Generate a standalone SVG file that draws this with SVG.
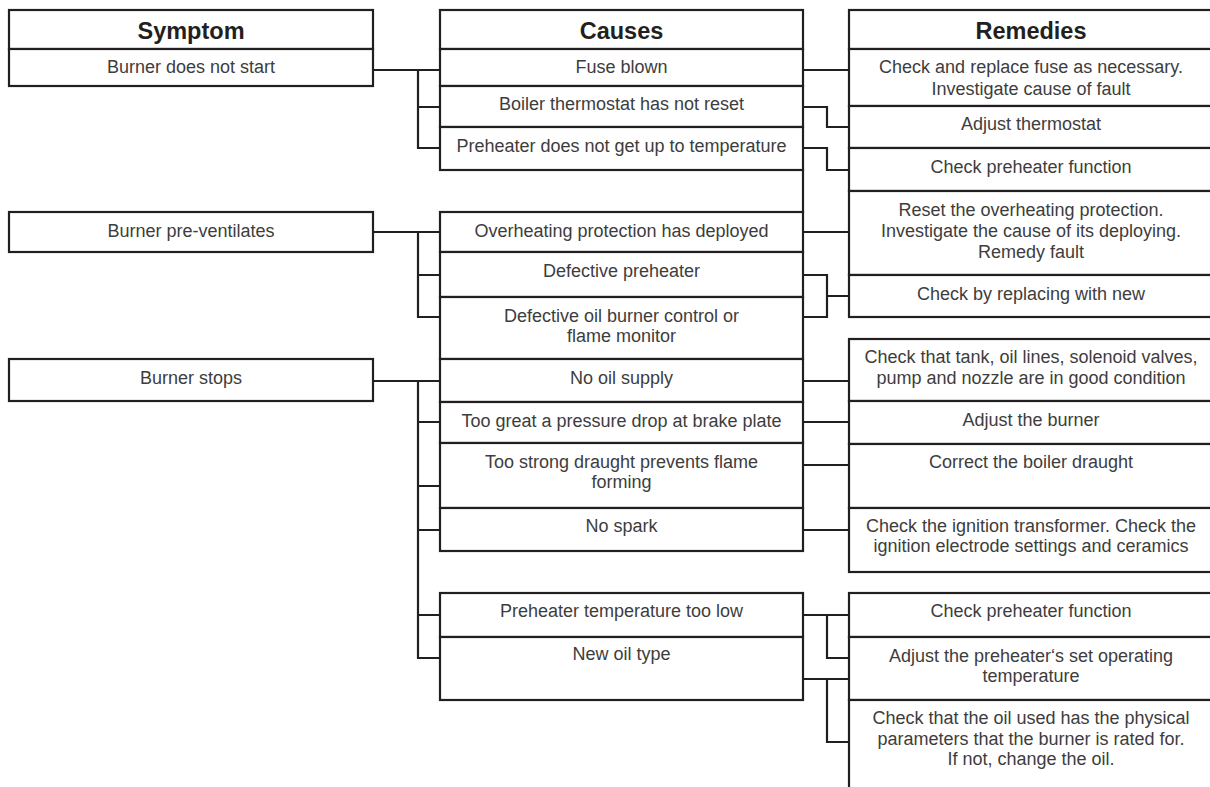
<svg xmlns="http://www.w3.org/2000/svg" width="1210" height="787" viewBox="0 0 1210 787">
<style>
.box{fill:#fff;stroke:#231f20;stroke-width:2.2}
.c{fill:none;stroke:#231f20;stroke-width:2.2;stroke-linecap:square}
.h{font-family:"Liberation Sans",Arial,sans-serif;font-weight:bold;font-size:23.5px;fill:#231f20;text-anchor:middle}
.t{font-family:"Liberation Sans",Arial,sans-serif;font-size:18px;fill:#3d3d3d;text-anchor:middle}
</style>
<rect width="1210" height="787" fill="#fff"/>
<g id="connectors">
<path class="c" d="M373,70H440M418,70V148M418,107H440M418,148H440"/>
<path class="c" d="M373,232H440M418,232V317M418,275H440M418,317H440"/>
<path class="c" d="M373,381H440M418,381V658M418,422H440M418,486H440M418,530H440M418,615H440M418,658H440"/>
<path class="c" d="M803,70H849"/>
<path class="c" d="M803,107H827V127H849"/>
<path class="c" d="M803,148H827V170H849"/>
<path class="c" d="M803,170V212"/>
<path class="c" d="M803,232H849"/>
<path class="c" d="M803,275H827V317H803M827,296H849"/>
<path class="c" d="M803,381H849"/>
<path class="c" d="M803,422H849"/>
<path class="c" d="M803,465H849"/>
<path class="c" d="M803,530H849"/>
<path class="c" d="M803,615H849M827,615V658H849"/>
<path class="c" d="M803,679H849M827,679V742H849"/>
</g>
<g id="symptom-header"><rect class="box" x="9" y="10" width="364" height="39"/><text class="h" x="191" y="39">Symptom</text></g>
<g id="symptom-1"><rect class="box" x="9" y="49" width="364" height="37"/><text class="t" x="191" y="73">Burner does not start</text></g>
<g id="symptom-2"><rect class="box" x="9" y="212" width="364" height="40"/><text class="t" x="191" y="237">Burner pre-ventilates</text></g>
<g id="symptom-3"><rect class="box" x="9" y="359" width="364" height="42"/><text class="t" x="191" y="384">Burner stops</text></g>

<g id="causes-header"><rect class="box" x="440" y="10" width="363" height="39"/><text class="h" x="621.5" y="39">Causes</text></g>
<g id="cause-1"><rect class="box" x="440" y="49" width="363" height="37"/><text class="t" x="621.5" y="73">Fuse blown</text></g>
<g id="cause-2"><rect class="box" x="440" y="86" width="363" height="41"/><text class="t" x="621.5" y="110">Boiler thermostat has not reset</text></g>
<g id="cause-3"><rect class="box" x="440" y="127" width="363" height="43"/><text class="t" x="621.5" y="152">Preheater does not get up to temperature</text></g>
<g id="cause-4"><rect class="box" x="440" y="212" width="363" height="40"/><text class="t" x="621.5" y="237">Overheating protection has deployed</text></g>
<g id="cause-5"><rect class="box" x="440" y="252" width="363" height="45"/><text class="t" x="621.5" y="277">Defective preheater</text></g>
<g id="cause-6"><rect class="box" x="440" y="297" width="363" height="62"/><text class="t" x="621.5" y="322">Defective oil burner control or</text><text class="t" x="621.5" y="342">flame monitor</text></g>
<g id="cause-7"><rect class="box" x="440" y="359" width="363" height="43"/><text class="t" x="621.5" y="384">No oil supply</text></g>
<g id="cause-8"><rect class="box" x="440" y="402" width="363" height="41"/><text class="t" x="621.5" y="427">Too great a pressure drop at brake plate</text></g>
<g id="cause-9"><rect class="box" x="440" y="443" width="363" height="65"/><text class="t" x="621.5" y="468">Too strong draught prevents flame</text><text class="t" x="621.5" y="488">forming</text></g>
<g id="cause-10"><rect class="box" x="440" y="508" width="363" height="43"/><text class="t" x="621.5" y="532">No spark</text></g>
<g id="cause-11"><rect class="box" x="440" y="593" width="363" height="44"/><text class="t" x="621.5" y="617">Preheater temperature too low</text></g>
<g id="cause-12"><rect class="box" x="440" y="637" width="363" height="63"/><text class="t" x="621.5" y="660">New oil type</text></g>

<g id="remedies-header"><rect class="box" x="849" y="10" width="366" height="39"/><text class="h" x="1031" y="39">Remedies</text></g>
<g id="remedy-1"><rect class="box" x="849" y="49" width="366" height="57"/><text class="t" x="1031" y="73">Check and replace fuse as necessary.</text><text class="t" x="1031" y="95">Investigate cause of fault</text></g>
<g id="remedy-2"><rect class="box" x="849" y="106" width="366" height="42"/><text class="t" x="1031" y="130">Adjust thermostat</text></g>
<g id="remedy-3"><rect class="box" x="849" y="148" width="366" height="43"/><text class="t" x="1031" y="173">Check preheater function</text></g>
<g id="remedy-4"><rect class="box" x="849" y="191" width="366" height="84"/><text class="t" x="1031" y="216">Reset the overheating protection.</text><text class="t" x="1031" y="237">Investigate the cause of its deploying.</text><text class="t" x="1031" y="258">Remedy fault</text></g>
<g id="remedy-5"><rect class="box" x="849" y="275" width="366" height="42"/><text class="t" x="1031" y="300">Check by replacing with new</text></g>
<g id="remedy-6"><rect class="box" x="849" y="339" width="366" height="62"/><text class="t" x="1031" y="363">Check that tank, oil lines, solenoid valves,</text><text class="t" x="1031" y="384">pump and nozzle are in good condition</text></g>
<g id="remedy-7"><rect class="box" x="849" y="401" width="366" height="43"/><text class="t" x="1031" y="426">Adjust the burner</text></g>
<g id="remedy-8"><rect class="box" x="849" y="444" width="366" height="64"/><text class="t" x="1031" y="468">Correct the boiler draught</text></g>
<g id="remedy-9"><rect class="box" x="849" y="508" width="366" height="64"/><text class="t" x="1031" y="532">Check the ignition transformer. Check the</text><text class="t" x="1031" y="552">ignition electrode settings and ceramics</text></g>
<g id="remedy-10"><rect class="box" x="849" y="593" width="366" height="44"/><text class="t" x="1031" y="617">Check preheater function</text></g>
<g id="remedy-11"><rect class="box" x="849" y="637" width="366" height="63"/><text class="t" x="1031" y="662">Adjust the preheater‘s set operating</text><text class="t" x="1031" y="682">temperature</text></g>
<g id="remedy-12"><rect class="box" x="849" y="700" width="366" height="100"/><text class="t" x="1031" y="724">Check that the oil used has the physical</text><text class="t" x="1031" y="745">parameters that the burner is rated for.</text><text class="t" x="1031" y="765">If not, change the oil.</text></g>
</svg>
